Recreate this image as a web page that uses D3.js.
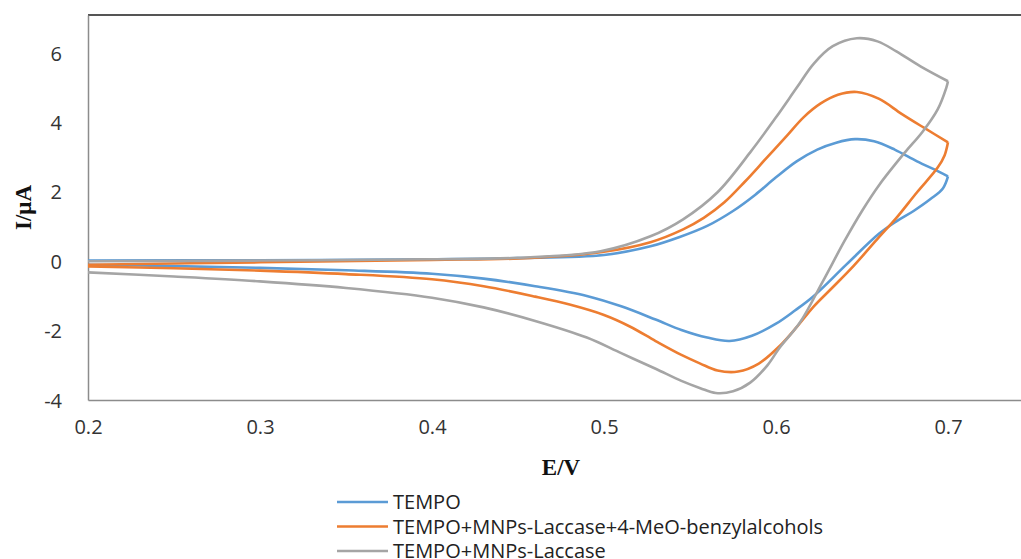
<!DOCTYPE html>
<html>
<head>
<meta charset="utf-8">
<script src="https://cdn.jsdelivr.net/npm/d3@7"></script>
<style>
  body { margin: 0; background: #fff; }
  svg { display: block; }
  .tick text { font-family: "Open Sans", sans-serif; font-size: 20px; fill: #333; }
  .title { font-family: "Liberation Serif", serif; font-weight: bold; font-size: 23px; fill: #111; }
  .legend text { font-family: "Open Sans", sans-serif; font-size: 20px; fill: #222; }
</style>
</head>
<body>
<svg id="chart" width="1021" height="559"></svg>
<script>
// tick labels
const xTicks = [0.2, 0.3, 0.4, 0.5, 0.6, 0.7];
const yTicks = [-4, -2, 0, 2, 4, 6];

const names = ["TEMPO", "TEMPO+MNPs-Laccase+4-MeO-benzylalcohols", "TEMPO+MNPs-Laccase"];
const colors = ["#5b9bd5", "#ed7d31", "#a5a5a5"];

// [E (V), I (uA)], forward scan 0.2 -> 0.7
const tempoFwd = [[0.2,0.02],[0.3,0.03],[0.4,0.06],[0.45,0.09],[0.5,0.18],[0.527,0.43],[0.544,0.7],
  [0.56,1.02],[0.575,1.45],[0.588,1.92],[0.6,2.42],[0.612,2.88],[0.624,3.22],[0.635,3.42],[0.646,3.52],
  [0.657,3.46],[0.669,3.22],[0.682,2.88],[0.694,2.6],[0.7,2.45]];
// reverse scan 0.7 -> 0.2
const tempoRev = [[0.7,2.45],[0.697,2.1],[0.69,1.8],[0.68,1.45],[0.67,1.15],[0.66,0.8],[0.641,-0.09],
  [0.622,-1.0],[0.611,-1.42],[0.6,-1.8],[0.586,-2.15],[0.573,-2.3],[0.56,-2.2],[0.545,-1.98],[0.53,-1.68],
  [0.51,-1.3],[0.49,-1.0],[0.46,-0.72],[0.43,-0.5],[0.4,-0.36],[0.35,-0.26],[0.3,-0.19],[0.25,-0.14],[0.2,-0.1]];

const enzSubFwd = [[0.2,-0.1],[0.3,-0.03],[0.4,0.04],[0.45,0.08],[0.498,0.26],[0.527,0.55],[0.546,0.92],
  [0.558,1.25],[0.57,1.7],[0.582,2.3],[0.594,2.95],[0.606,3.6],[0.616,4.15],[0.626,4.55],[0.636,4.8],
  [0.647,4.88],[0.66,4.68],[0.673,4.25],[0.686,3.85],[0.7,3.43]];
const enzSubRev = [[0.7,3.43],[0.698,3.05],[0.694,2.7],[0.682,1.99],[0.67,1.25],[0.66,0.7],[0.645,-0.14],
  [0.633,-0.75],[0.622,-1.3],[0.612,-1.9],[0.602,-2.45],[0.59,-2.95],[0.578,-3.18],[0.566,-3.15],[0.556,-2.95],
  [0.545,-2.7],[0.53,-2.3],[0.515,-1.88],[0.5,-1.55],[0.48,-1.25],[0.46,-1.02],[0.43,-0.72],[0.4,-0.52],
  [0.35,-0.37],[0.3,-0.27],[0.25,-0.2],[0.2,-0.15]];

const enzFwd = [[0.2,0.0],[0.3,0.02],[0.4,0.06],[0.45,0.1],[0.498,0.29],[0.527,0.72],[0.546,1.21],
  [0.566,1.99],[0.585,3.14],[0.6,4.15],[0.612,5.0],[0.622,5.7],[0.633,6.2],[0.647,6.43],[0.659,6.34],
  [0.67,6.05],[0.684,5.62],[0.7,5.19]];
const enzRev = [[0.7,5.19],[0.699,5.0],[0.694,4.38],[0.685,3.72],[0.675,3.14],[0.66,2.2],[0.65,1.45],
  [0.64,0.6],[0.627,-0.6],[0.614,-1.76],[0.602,-2.5],[0.595,-3.0],[0.585,-3.5],[0.575,-3.75],[0.565,-3.8],
  [0.556,-3.66],[0.545,-3.45],[0.53,-3.1],[0.51,-2.65],[0.49,-2.2],[0.46,-1.72],[0.43,-1.33],
  [0.4,-1.05],[0.35,-0.77],[0.3,-0.58],[0.25,-0.44],[0.2,-0.32]];

const scans = [[tempoFwd, tempoRev], [enzSubFwd, enzSubRev], [enzFwd, enzRev]];

const svg = d3.select('#chart');
const x = d3.scaleLinear().domain([0.2, 0.75]).range([88, 1034]);
const y = d3.scaleLinear().domain([-4, 7.1]).range([400, 15]);

// frame
svg.append('line')
  .attr('x1', x(0.2)).attr('x2', x(0.75))
  .attr('y1', y(7.1)).attr('y2', y(7.1))
  .attr('stroke', '#555').attr('stroke-width', 2);

const xAxis = svg.append('g')
  .attr('transform', `translate(0,${y(-4)})`)
  .call(d3.axisBottom(x).tickValues(xTicks).tickSize(0).tickPadding(20).tickFormat(d3.format('.1f')));
const yAxis = svg.append('g')
  .attr('transform', `translate(${x(0.2)},0)`)
  .call(d3.axisLeft(y).tickValues(yTicks).tickSize(0).tickPadding(26).tickFormat(d => String(d)));
[xAxis, yAxis].forEach(a => {
  a.attr('font-size', null).attr('font-family', null);
  a.select('.domain').attr('stroke', '#8c8c8c').attr('stroke-width', 1.5);
});
yAxis.selectAll('.tick text').attr('dy', '0.35em');

// curves
const line = d3.line()
  .x(d => x(d[0]))
  .y(d => y(d[1]))
  .curve(d3.curveCatmullRom.alpha(0.5));

scans.forEach((pair, i) => {
  pair.forEach(pts => {
    svg.append('path')
      .attr('d', line(pts))
      .attr('fill', 'none')
      .attr('stroke', colors[i])
      .attr('stroke-width', 2.6)
      .attr('stroke-linejoin', 'round');
  });
});

// axis titles
svg.append('text').attr('class', 'title')
  .attr('x', (x(0.2) + x(0.75)) / 2).attr('y', 475)
  .attr('text-anchor', 'middle').text('E/V');
svg.append('text').attr('class', 'title')
  .attr('transform', `translate(31,${(y(-4) + y(7.1)) / 2}) rotate(-90)`)
  .attr('text-anchor', 'middle').text('I/μA');

// legend
const legend = svg.append('g').attr('class', 'legend');
const rows = legend.selectAll('g').data(names).enter().append('g')
  .attr('transform', (d, i) => `translate(337,${502 + i * 24.5})`);
rows.append('line')
  .attr('x1', 0).attr('x2', 51)
  .attr('stroke', (d, i) => colors[i]).attr('stroke-width', 2.6);
rows.append('text')
  .attr('x', 56).attr('dy', '0.35em')
  .text(d => d);
</script>
</body>
</html>
